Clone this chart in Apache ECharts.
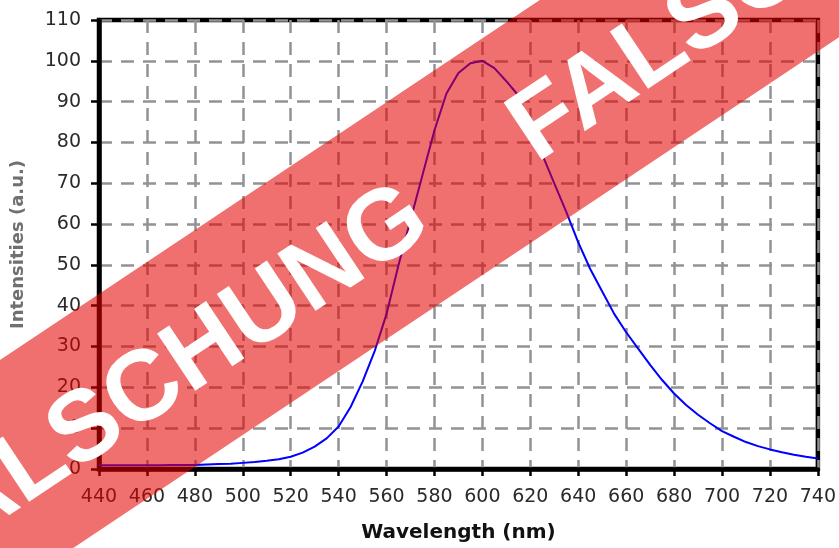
<!DOCTYPE html>
<html>
<head>
<meta charset="utf-8">
<script src="https://cdn.jsdelivr.net/npm/echarts@6/dist/echarts.min.js"></script>
<style>
html,body{margin:0;padding:0;background:#fff;}
#chart{width:839px;height:548px;}
</style>
</head>
<body>
<div id="chart"></div>
<script>
// Wavelengths (nm) and intensities (a.u.)
var wavelengths = [440,445,450,455,460,465,470,475,480,485,490,495,500,505,510,515,520,525,530,535,540,545,550,555,560,565,570,575,580,585,590,595,600,605,610,615,620,625,630,635,640,645,650,655,660,665,670,675,680,685,690,695,700,705,710,715,720,725,730,735,740];
var intensities = [0.9,0.9,0.9,0.9,0.9,0.9,1.0,1.0,1.0,1.1,1.2,1.3,1.5,1.7,2.0,2.4,3.0,4.0,5.5,7.5,10.4,15.2,21.4,28.8,38,50,61,72,83,92,97,99.4,100,98.2,95,91.5,84,77,70,63,55.5,49,43.5,38,33.5,29.5,25.5,21.8,18.5,15.7,13.3,11.2,9.3,7.9,6.6,5.6,4.8,4.1,3.5,3.0,2.6];
var xTicks = {min: 440, max: 740, interval: 20};
var yTicks = {min: 0, max: 110, interval: 10};
var xName = 'Wavelength (nm)';
var yName = 'Intensities (a.u.)';
var stampWords = ['FÄLSCHUNG', 'FALSCH'];

var chart = echarts.init(document.getElementById('chart'));
var pairs = wavelengths.map(function (w, i) { return [w, intensities[i]]; });

var gridLine = {show: true, lineStyle: {color: '#939393', width: 2.5, type: [13, 9]}};
var ang = Math.atan(0.667);

chart.setOption({
  animation: false,
  backgroundColor: '#fff',
  grid: {left: 99, right: 19, top: 20, bottom: 79, show: true, borderColor: '#000', borderWidth: 4.5, backgroundColor: 'transparent'},
  xAxis: {
    type: 'value', min: xTicks.min, max: xTicks.max, interval: xTicks.interval,
    name: xName, nameLocation: 'middle', nameGap: 54,
    nameTextStyle: {fontFamily: 'DejaVu Sans', fontWeight: 'bold', fontSize: 20, color: '#111'},
    axisLine: {show: true, lineStyle: {color: '#000', width: 4.5}},
    axisTick: {show: true, inside: false, length: 7, lineStyle: {color: '#000', width: 2.5}},
    axisLabel: {margin: 19, fontFamily: 'DejaVu Sans', fontSize: 19, color: '#2a2a2a'},
    splitLine: gridLine
  },
  yAxis: {
    type: 'value', min: yTicks.min, max: yTicks.max, interval: yTicks.interval,
    name: yName, nameLocation: 'middle', nameGap: 72, nameRotate: 90,
    nameTextStyle: {fontFamily: 'DejaVu Sans', fontWeight: 'bold', fontSize: 18, color: '#707070'},
    axisLine: {show: true, lineStyle: {color: '#000', width: 4.5}},
    axisTick: {show: true, inside: false, length: 8, lineStyle: {color: '#000', width: 2.5}},
    axisLabel: {margin: 18, fontFamily: 'DejaVu Sans', fontSize: 19, color: '#2a2a2a'},
    splitLine: gridLine
  },
  series: [{
    type: 'line', data: pairs, showSymbol: false, smooth: false, clip: true,
    lineStyle: {color: '#0000ff', width: 2}, z: 3
  }],
  graphic: [{
    type: 'group', x: 420, y: 198.3, rotation: ang, z: 100, silent: true,
    children: [
      {type: 'rect', shape: {x: -1200, y: -98.5, width: 2400, height: 197}, style: {fill: 'rgba(229,0,0,0.56)'}, z: 100},
      {type: 'text', x: -6, y: 8, style: {text: stampWords[0], align: 'right', verticalAlign: 'middle', fill: '#fff', fontFamily: 'Liberation Sans', fontWeight: 'bold', fontSize: 100}, z: 101},
      {type: 'text', x: 116, y: 8, style: {text: stampWords[1], align: 'left', verticalAlign: 'middle', fill: '#fff', fontFamily: 'Liberation Sans', fontWeight: 'bold', fontSize: 100}, z: 101}
    ]
  }]
});
</script>
</body>
</html>
